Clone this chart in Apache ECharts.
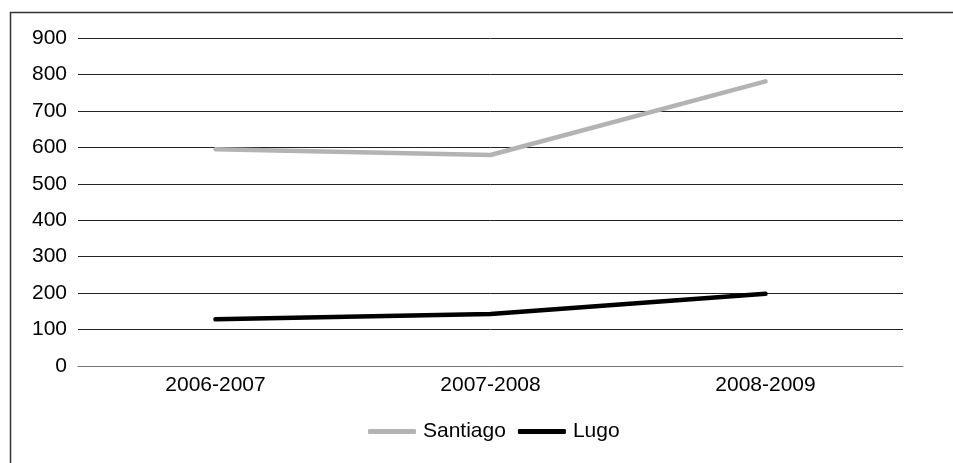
<!DOCTYPE html>
<html>
<head>
<meta charset="utf-8">
<script src="https://cdn.jsdelivr.net/npm/echarts@6/dist/echarts.min.js"></script>
<style>html,body{margin:0;padding:0;background:#fff}#c{width:953px;height:463px}</style>
</head>
<body>
<div id="c"></div>
<script>
const categories = ['2006-2007', '2007-2008', '2008-2009'];
const santiago = [595, 579, 781];
const lugo = [128, 143, 198];
const yTicks = { min: 0, max: 900, interval: 100 };

const chart = echarts.init(document.getElementById('c'));
const font = 'Liberation Sans, Arial, Helvetica, sans-serif';
chart.setOption({
  animation: false,
  backgroundColor: '#fff',
  textStyle: { fontFamily: font },
  graphic: [{
    type: 'rect', left: 8, top: 10, silent: true,
    shape: { x: 0, y: 0, width: 1200, height: 1200 },
    style: { fill: 'none', stroke: '#333', lineWidth: 1.5 }
  }],
  grid: { left: 78, right: 50, top: 38, bottom: 97, containLabel: false },
  legend: {
    top: 416, left: 363,
    itemWidth: 48, itemHeight: 5, itemGap: 12,
    textStyle: { fontSize: 21, color: '#000', fontFamily: font, padding: [0, 0, 0, 2] },
    data: [
      { name: 'Santiago', icon: 'roundRect', itemStyle: { color: '#b3b3b3' } },
      { name: 'Lugo', icon: 'roundRect', itemStyle: { color: '#000' } }
    ]
  },
  xAxis: {
    type: 'category', data: categories, boundaryGap: true,
    axisLine: { lineStyle: { color: '#777', width: 1 } },
    axisTick: { show: false },
    axisLabel: { fontSize: 21, color: '#000', margin: 9, fontFamily: font }
  },
  yAxis: {
    type: 'value', min: yTicks.min, max: yTicks.max, interval: yTicks.interval,
    axisLine: { show: false }, axisTick: { show: false },
    axisLabel: { fontSize: 21, color: '#000', margin: 11, fontFamily: font },
    splitLine: { lineStyle: { color: '#222', width: 1 } }
  },
  series: [
    { name: 'Santiago', type: 'line', data: santiago, showSymbol: false, symbol: 'none',
      itemStyle: { color: '#b3b3b3' },
      lineStyle: { color: '#b3b3b3', width: 4.5, cap: 'round' } },
    { name: 'Lugo', type: 'line', data: lugo, showSymbol: false, symbol: 'none',
      itemStyle: { color: '#000' },
      lineStyle: { color: '#000', width: 4.5, cap: 'round' } }
  ]
});
</script>
</body>
</html>
